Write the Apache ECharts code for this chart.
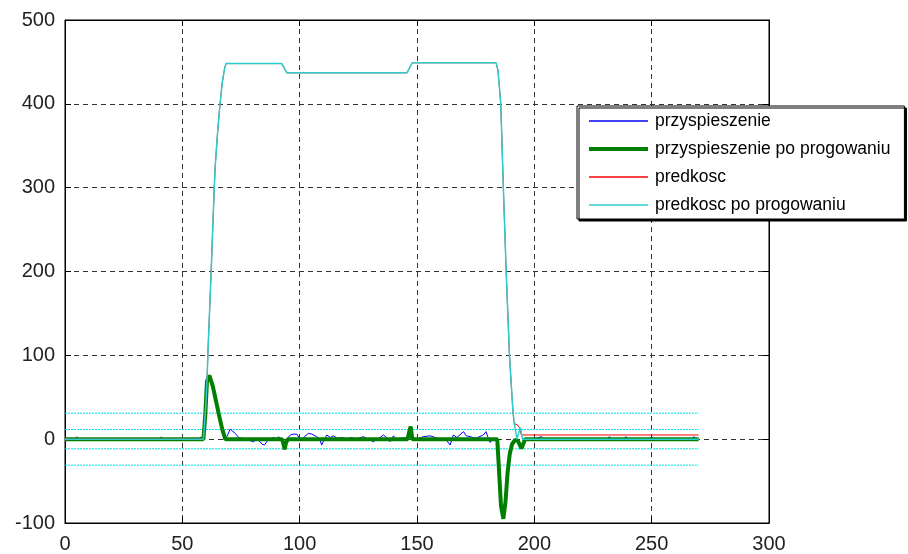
<!DOCTYPE html>
<html>
<head>
<meta charset="utf-8">
<script src="https://cdn.jsdelivr.net/npm/echarts@6/dist/echarts.min.js"></script>
<style>
  html, body { margin: 0; padding: 0; background: #fff; }
  #chart { width: 908px; height: 554px; }
</style>
</head>
<body>
<div id="chart"></div>
<script>
// Axis ticks
const xTicks = [0, 50, 100, 150, 200, 250, 300];
const yTicks = [-100, 0, 100, 200, 300, 400, 500];

// przyspieszenie (raw acceleration)
const accX = [0, 4, 5, 6, 40, 41, 42, 57, 58, 59, 59.8, 60.5, 61.5, 62.2, 63, 64, 65, 66, 67, 68.3, 69, 70.4, 71.1, 72.5, 74, 76.8, 80.3, 82, 84, 85, 86.5, 88.8, 90, 91, 92, 93.5, 94.5, 96, 97.4, 98.8, 100, 101, 102, 103.8, 105.2, 105.9, 107.3, 108.5, 109.4, 110.5, 111.6, 113, 114.4, 116, 118, 120, 122, 124, 127.2, 129, 131.5, 133, 134.3, 135.7, 137, 138.5, 140, 141.3, 143, 145.7, 147, 148, 150, 152.7, 153.5, 155.6, 157.7, 160, 162, 164.1, 165.5, 167, 169.8, 171, 172.7, 175, 178.3, 179.4, 180.4, 181.2, 182, 184.2, 185, 185.8, 186.8, 187.7, 188.6, 189.5, 190.5, 191.8, 193, 194.5, 195.5, 196, 200, 203, 204, 231, 232, 233, 238, 239, 240, 249, 250, 251, 267, 268, 269, 270];
const accY = [0, 0, 2.5, 0, 0, 2.5, 0, 0, 2.5, 0, 30, 69, 76, 74, 63, 50, 37, 24, 12, 0, 3, 12, 13, 7, 2, 0, -3, 0, -6, -7, -1, 2, 0, 3, 0, -12, 0, 5, 6, 6, 1, -2, 3, 7, 6, 4, 3, 0, -7, 0, 5, 2, 4, 1, 2, 0, 2, 0, 3, 0, -3, 0, 2, 5, 2, -3, 4, -1, 1, 2, 15, 2, 0, 3, 5, 4, 2, 0, 1, -7, 5, 2, 9, 4, 3, 1, 5, 9, 1, -4, 0, 0, -40, -80, -95, -75, -40, -18, -6, -1, -2, -9, -4, 0, 0, 3, 0, 0, 3, 0, 0, 3, 0, 0, 3, 0, 0, 3, 0, 0];

// przyspieszenie po progowaniu (thresholded acceleration)
const accThrX = [0, 59, 59.8, 60.5, 61.5, 62.2, 63, 64, 65, 66, 67, 68.3, 92.5, 93.2, 93.6, 94.2, 95, 146, 146.8, 147.3, 148, 184.2, 185, 185.8, 186.8, 187.7, 188.6, 189.5, 190.5, 191.8, 193, 194.5, 195.5, 196, 270];
const accThrY = [0, 0, 30, 69, 76, 74, 63, 50, 37, 24, 12, 0, 0, -7, -12, -4, 0, 0, 10, 15, 0, 0, -40, -80, -95, -75, -40, -18, -6, -1, -2, -11, -4, 0, 0];

// predkosc (velocity)
const velX = [0, 59, 60, 60.5, 61, 62, 62.3, 63, 63.6, 64, 65, 66, 67, 68, 68.6, 92.4, 94.5, 145.7, 148, 183.7, 184.5, 185.7, 186.8, 188, 189.4, 190.8, 191.3, 191.8, 192.8, 193.6, 194.5, 270];
const velY = [0, 0, 40, 69, 110, 180, 201, 255, 300, 325, 365, 398, 425, 442, 448, 448, 437, 437, 449, 449, 440, 400, 300, 200, 100, 37, 21, 18, 17, 14, 5, 5];

// predkosc po progowaniu (thresholded velocity)
const velThrX = [0, 59, 60, 60.5, 61, 62, 62.3, 63, 63.6, 64, 65, 66, 67, 68, 68.6, 92.4, 94.5, 145.7, 148, 183.7, 184.5, 185.7, 186.8, 188, 189.4, 190.8, 191.3, 192.6, 194, 195, 270];
const velThrY = [0, 0, 40, 69, 110, 180, 201, 255, 300, 325, 365, 398, 425, 442, 448, 448, 437, 437, 449, 449, 440, 400, 300, 200, 100, 37, 21, 0, 14, 0, 0];

// threshold levels, drawn over the sample range
const thresholdLevels = [31, 11.5, -11.5, -31];
const thresholdRange = [0, 270];

const zip = (xs, ys) => xs.map((x, i) => [x, ys[i]]);

const FONT = 'Liberation Sans, Arial, sans-serif';

const SERIES_STYLE = {
  'przyspieszenie': { color: '#0000ff', width: 1 },
  'przyspieszenie po progowaniu': { color: '#008000', width: 4 },
  'predkosc': { color: '#ff0000', width: 1 },
  'predkosc po progowaniu': { color: '#2ccccc', width: 1.5 }
};

const lineSeries = (name, xs, ys, z) => ({
  name, type: 'line', data: zip(xs, ys), showSymbol: false, symbol: 'none',
  lineStyle: { color: SERIES_STYLE[name].color, width: SERIES_STYLE[name].width },
  itemStyle: { color: SERIES_STYLE[name].color }, z
});

const thresholdSeries = thresholdLevels.map(v => ({
  type: 'line', silent: true, symbol: 'none', z: 1,
  data: thresholdRange.map(x => [x, v]),
  lineStyle: { color: '#00e0e0', width: 1, type: [2, 1] }
}));

const chart = echarts.init(document.getElementById('chart'), null, { renderer: 'canvas' });

const gridLine = { show: true, lineStyle: { color: '#333', type: [5, 4], width: 1 } };
const frameLine = { show: true, onZero: false, lineStyle: { color: '#000' } };
const innerTick = { show: true, inside: true, length: 6, lineStyle: { color: '#000' } };

chart.setOption({
  animation: false,
  backgroundColor: '#fff',
  grid: { left: 65, right: 139, top: 20, bottom: 30, show: true, borderColor: '#000', borderWidth: 1, backgroundColor: 'transparent' },
  legend: {
    orient: 'vertical', left: 577, top: 106,
    itemWidth: 59, itemHeight: 14, itemGap: 10,
    padding: [6, 14, 5, 10],
    backgroundColor: '#fff', borderColor: '#000', borderWidth: 1,
    shadowColor: '#000', shadowBlur: 0, shadowOffsetX: 2, shadowOffsetY: 2,
    itemStyle: { opacity: 0 },
    textStyle: { fontFamily: FONT, fontSize: 17.5, color: '#000', padding: [0, 0, 0, 2] },
    data: Object.keys(SERIES_STYLE).map(name => ({
      name,
      lineStyle: { color: SERIES_STYLE[name].color, width: Math.max(SERIES_STYLE[name].width, 1.5), opacity: 1 }
    }))
  },
  xAxis: [{
    type: 'value', min: xTicks[0], max: xTicks[xTicks.length - 1], interval: 50,
    axisLine: frameLine, axisTick: innerTick,
    axisLabel: { fontFamily: FONT, fontSize: 20, color: '#222', margin: 11 },
    splitLine: gridLine
  }, {
    type: 'value', position: 'top', min: xTicks[0], max: xTicks[xTicks.length - 1], interval: 50,
    axisLine: frameLine, axisTick: innerTick,
    axisLabel: { show: false }, splitLine: { show: false }
  }],
  yAxis: [{
    type: 'value', min: yTicks[0], max: yTicks[yTicks.length - 1], interval: 100,
    axisLine: frameLine, axisTick: innerTick,
    axisLabel: { fontFamily: FONT, fontSize: 20, color: '#222', margin: 10 },
    splitLine: gridLine
  }, {
    type: 'value', position: 'right', min: yTicks[0], max: yTicks[yTicks.length - 1], interval: 100,
    axisLine: frameLine, axisTick: innerTick,
    axisLabel: { show: false }, splitLine: { show: false }
  }],
  series: [
    ...thresholdSeries,
    lineSeries('przyspieszenie', accX, accY, 2),
    lineSeries('przyspieszenie po progowaniu', accThrX, accThrY, 3),
    lineSeries('predkosc', velX, velY, 4),
    lineSeries('predkosc po progowaniu', velThrX, velThrY, 5)
  ]
});
</script>
</body>
</html>
